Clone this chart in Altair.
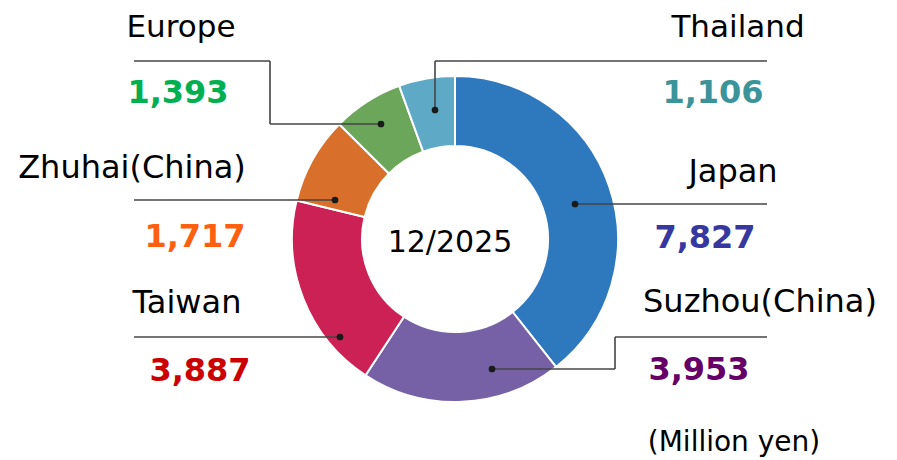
import altair as alt
import pandas as pd

# ---- data ----
regions = ["Japan", "Suzhou(China)", "Taiwan", "Zhuhai(China)", "Europe", "Thailand"]
amounts = [7827, 3953, 3887, 1717, 1393, 1106]
slice_colors = ["#2e78be", "#7660a6", "#cc2154", "#d8702c", "#6ba65a", "#5eaac6"]
value_colors = ["#3737a0", "#660066", "#cc0000", "#ff6010", "#00b050", "#3b9499"]
center_label = "12/2025"
unit_label = "(Million yen)"

# ---- layout (page pixel coordinates) ----
W, H = 881, 452
OFF = 8
CX, CY = 455, 239
R_OUT, R_IN = 163, 93
FONT = "DejaVu Sans"

name_pos = {
    "Japan": (733, 182), "Suzhou(China)": (760, 312), "Taiwan": (187, 313),
    "Zhuhai(China)": (132, 178), "Europe": (181, 37), "Thailand": (738, 37),
}
name_size = {
    "Japan": 32, "Suzhou(China)": 32, "Taiwan": 32,
    "Zhuhai(China)": 32, "Europe": 31, "Thailand": 31,
}
value_pos = {
    "Japan": (705, 248), "Suzhou(China)": (699, 380), "Taiwan": (200, 381),
    "Zhuhai(China)": (195, 247), "Europe": (178, 103), "Thailand": (713, 103),
}
dot_pos = {
    "Japan": (575, 204), "Suzhou(China)": (492, 369), "Taiwan": (340, 337),
    "Zhuhai(China)": (335, 200), "Europe": (381, 124), "Thailand": (435, 110),
}
leader_paths = {
    "Japan": [(575, 204), (767, 204)],
    "Suzhou(China)": [(492, 369), (615, 369), (615, 337), (767, 337)],
    "Taiwan": [(340, 337), (134, 337)],
    "Zhuhai(China)": [(335, 200), (134, 200)],
    "Europe": [(381, 124), (270, 124), (270, 61), (134, 61)],
    "Thailand": [(435, 110), (435, 61), (767, 61)],
}
unit_pos = (734, 451)
center_pos = (450, 252)

# ---- tables ----
slices = pd.DataFrame({
    "region": regions,
    "amount": amounts,
    "idx": list(range(len(regions))),
    "vcolor": value_colors,
})
slices["nx"] = [name_pos[r][0] - OFF for r in regions]
slices["ny"] = [name_pos[r][1] - OFF for r in regions]
slices["nsize"] = [name_size[r] for r in regions]
slices["vx"] = [value_pos[r][0] - OFF for r in regions]
slices["vy"] = [value_pos[r][1] - OFF for r in regions]
slices["dx"] = [dot_pos[r][0] - OFF for r in regions]
slices["dy"] = [dot_pos[r][1] - OFF for r in regions]

seg_rows = []
for r in regions:
    pts = leader_paths[r]
    for (x1, y1), (x2, y2) in zip(pts[:-1], pts[1:]):
        seg_rows.append({"region": r, "x": x1 - OFF, "y": y1 - OFF,
                         "x2": x2 - OFF, "y2": y2 - OFF})
segments = pd.DataFrame(seg_rows)

extras = pd.DataFrame({
    "label": [center_label, unit_label],
    "x": [center_pos[0] - OFF, unit_pos[0] - OFF],
    "y": [center_pos[1] - OFF, unit_pos[1] - OFF],
    "size": [30, 28],
})

X = lambda f: alt.X(f, type="quantitative", scale=None, axis=None)
Y = lambda f: alt.Y(f, type="quantitative", scale=None, axis=None)

arcs = alt.Chart(slices).mark_arc(
    outerRadius=R_OUT, innerRadius=R_IN, stroke="white", strokeWidth=2
).encode(
    theta=alt.Theta("amount:Q", stack=True),
    color=alt.Color("region:N", scale=alt.Scale(domain=regions, range=slice_colors), legend=None),
    order=alt.Order("idx:Q"),
    x=alt.value(CX - OFF),
    y=alt.value(CY - OFF),
)

rules = alt.Chart(segments).mark_rule(color="#454545", strokeWidth=1.6).encode(
    x=X("x"), y=Y("y"), x2="x2", y2="y2",
)

dots = alt.Chart(slices).mark_circle(size=45, color="#1a1a1a", opacity=1).encode(
    x=X("dx"), y=Y("dy"),
)

names = alt.Chart(slices).mark_text(
    font=FONT, align="center", baseline="alphabetic", color="#000000"
).encode(
    x=X("nx"), y=Y("ny"), text="region:N",
    size=alt.Size("nsize:Q", scale=None),
)

values = alt.Chart(slices).mark_text(
    font=FONT, fontSize=32, fontWeight="bold", align="center", baseline="alphabetic"
).encode(
    x=X("vx"), y=Y("vy"),
    text=alt.Text("amount:Q", format=","),
    color=alt.Color("vcolor:N", scale=None),
)

extra_text = alt.Chart(extras).mark_text(
    font=FONT, align="center", baseline="alphabetic", color="#000000"
).encode(
    x=X("x"), y=Y("y"), text="label:N",
    size=alt.Size("size:Q", scale=None),
)

chart = alt.layer(arcs, rules, dots, names, values, extra_text).properties(
    width=W, height=H, autosize=alt.AutoSizeParams(type="none"), padding=0,
    background="white",
).configure_view(stroke=None)

chart.save("out.html", embed_options={"renderer": "svg", "actions": False})
